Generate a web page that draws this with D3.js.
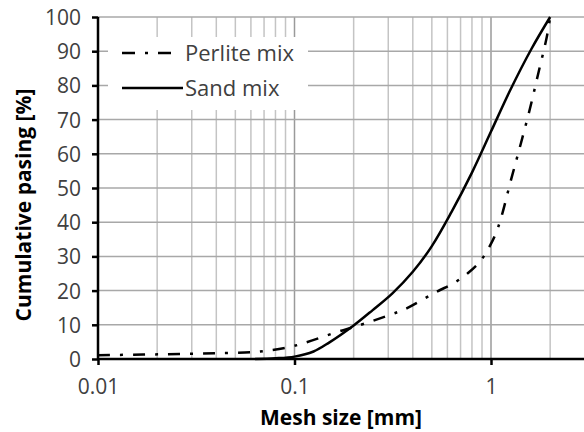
<!DOCTYPE html>
<html>
<head>
<meta charset="utf-8">
<script src="https://cdn.jsdelivr.net/npm/d3@7"></script>
<style>
  html, body { margin: 0; padding: 0; background: #fff; }
  svg { display: block; }
</style>
</head>
<body>
<svg id="chart" width="584" height="432"></svg>
<script>
// ---- data ----
const seriesNames = ["Perlite mix", "Sand mix"];
const perliteSize = [0.01, 0.017, 0.026, 0.04, 0.06, 0.072, 0.091, 0.111, 0.167, 0.207, 0.306, 0.372, 0.53, 0.643, 0.767, 0.879, 0.99, 1.09, 1.27, 1.42, 1.58, 1.74, 1.92, 2.0];
const perlitePass = [1.1, 1.3, 1.45, 1.7, 2.0, 2.4, 3.3, 4.6, 8.0, 9.6, 12.9, 14.8, 19.7, 22.1, 25.2, 28.5, 33.2, 38.7, 52.8, 63.1, 73.3, 83.5, 94.0, 100];
const sandSize = [0.063, 0.08, 0.1, 0.125, 0.15, 0.2, 0.25, 0.315, 0.4, 0.5, 0.63, 0.8, 1.0, 1.25, 1.6, 2.0];
const sandPass = [0, 0.2, 0.7, 2.2, 4.8, 9.8, 14.3, 19.2, 25.5, 33.0, 43.0, 54.5, 66.5, 78.5, 90.5, 100];
const xTickValues = [0.01, 0.1, 1];
const xTickLabels = ["0.01", "0.1", "1"];
const yTickValues = [0, 10, 20, 30, 40, 50, 60, 70, 80, 90, 100];
const xTitle = "Mesh size [mm]";
const yTitle = "Cumulative pasing [%]";

// ---- layout ----
const W = 584, H = 432;
const pL = 98, pR = W, pT = 17, pB = 359;
const svg = d3.select("#chart");

const x = d3.scaleLog().domain([0.01, 1]).range([pL, 491]);
const y = d3.scaleLinear().domain([0, 100]).range([pB, pT]);

const font = "'Open Sans', 'Noto Sans', sans-serif";
const textCol = "#404040";

// grid: vertical minor lines
const minor = [];
[0.01, 0.1, 1].forEach(d => { for (let k = 2; k <= 9; k++) { const v = d * k; if (x(v) <= pR) minor.push(v); } });
svg.append("g").selectAll("line").data(minor).join("line")
  .attr("x1", d => x(d)).attr("x2", d => x(d))
  .attr("y1", pT).attr("y2", pB)
  .attr("stroke", "#c4c4c4").attr("stroke-width", 1.5);
svg.append("g").selectAll("line").data([0.1, 1]).join("line")
  .attr("x1", d => x(d)).attr("x2", d => x(d))
  .attr("y1", pT).attr("y2", pB)
  .attr("stroke", "#9a9a9a").attr("stroke-width", 1.5);
// horizontal grid
svg.append("g").selectAll("line").data(yTickValues.slice(1)).join("line")
  .attr("x1", pL).attr("x2", pR)
  .attr("y1", d => y(d)).attr("y2", d => y(d))
  .attr("stroke", "#a8a8a8").attr("stroke-width", 1.5);

// legend background
svg.append("rect").attr("x", 108).attr("y", 37).attr("width", 200).attr("height", 73).attr("fill", "#fff");

// curves
const line = d3.line().x(d => x(d[0])).y(d => y(d[1])).curve(d3.curveCatmullRom.alpha(0.5));
const perlite = perliteSize.map((s, i) => [s, perlitePass[i]]);
const sand = sandSize.map((s, i) => [s, sandPass[i]]);
svg.append("path").attr("d", line(sand)).attr("fill", "none")
  .attr("stroke", "#000").attr("stroke-width", 2.5);
svg.append("path").attr("d", line(perlite)).attr("fill", "none")
  .attr("stroke", "#000").attr("stroke-width", 2.5)
  .attr("stroke-dasharray", "12,10,3,10");

// axes
const yAxis = d3.axisLeft(y).tickValues(yTickValues).tickSize(6).tickFormat(d3.format("d"));
const gy = svg.append("g").attr("transform", `translate(${pL},0)`).call(yAxis);
const xAxis = d3.axisBottom(x).tickValues(xTickValues).tickSize(6).tickFormat((d, i) => xTickLabels[i]);
const gx = svg.append("g").attr("transform", `translate(0,${pB})`).call(xAxis);
[gx, gy].forEach(g => {
  g.select(".domain").remove();
  g.selectAll(".tick line").attr("stroke", "#000").attr("stroke-width", 2.5);
  g.selectAll("text").attr("font-family", font).attr("font-size", 21).attr("fill", textCol);
});
gy.selectAll("text").attr("x", -17).attr("dy", "0.36em");
gx.selectAll("text").attr("y", 20).attr("dy", "0.71em");
// axis lines
svg.append("line").attr("x1", pL).attr("x2", pR).attr("y1", pB).attr("y2", pB)
  .attr("stroke", "#000").attr("stroke-width", 2.5);
svg.append("line").attr("x1", pL).attr("x2", pL).attr("y1", pT).attr("y2", pB + 1)
  .attr("stroke", "#000").attr("stroke-width", 2.5);

// titles
svg.append("text").attr("x", (pL + pR) / 2).attr("y", 425)
  .attr("text-anchor", "middle").attr("font-family", font).attr("font-weight", "bold")
  .attr("font-size", 21).attr("fill", "#000").text(xTitle);
svg.append("text").attr("transform", "translate(31,205) rotate(-90)")
  .attr("text-anchor", "middle").attr("font-family", font).attr("font-weight", "bold")
  .attr("font-size", 21).attr("fill", "#000").text(yTitle);

// legend
const legY = [53, 88];
const leg = svg.append("g");
seriesNames.forEach((name, i) => {
  leg.append("line").attr("x1", 122).attr("x2", i === 0 ? 171 : 183)
    .attr("y1", legY[i]).attr("y2", legY[i])
    .attr("stroke", "#000").attr("stroke-width", 2.5)
    .attr("stroke-dasharray", i === 0 ? "13,10,3,10" : null);
  leg.append("text").attr("x", 185).attr("y", legY[i]).attr("dy", "0.36em")
    .attr("font-family", font).attr("font-size", 22).attr("fill", textCol).text(name);
});
</script>
</body>
</html>
